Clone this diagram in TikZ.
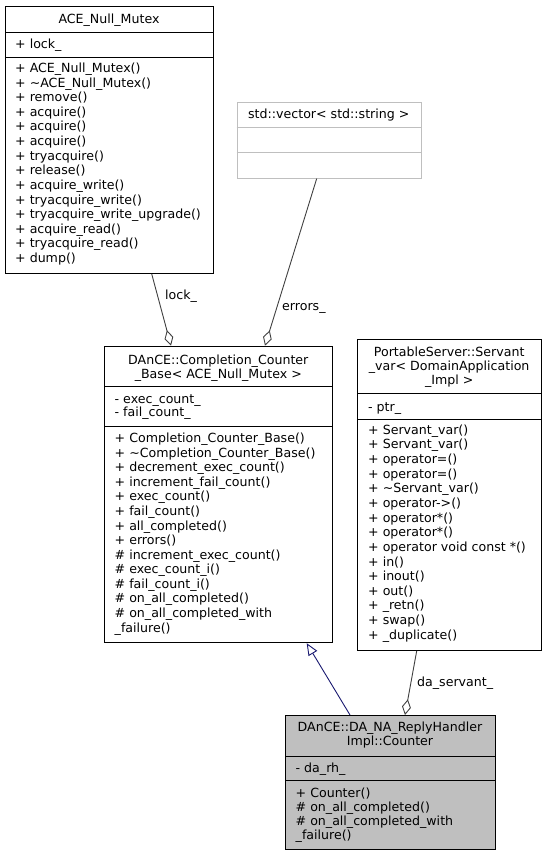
\documentclass[tikz,border=0pt]{standalone}
\usepackage{fontspec}
\setmainfont{DejaVu Sans}
\usetikzlibrary{arrows.meta,calc}

\definecolor{edgegray}{HTML}{404040}
\definecolor{boxgray}{HTML}{BFBFBF}
\definecolor{navyline}{HTML}{191970}

\tikzset{
	classbox/.style={draw=black, line width=0.9pt, fill=white, inner sep=0pt, anchor=north west},
	member/.style={anchor=base west, inner sep=0pt},
	title/.style={anchor=base, inner sep=0pt},
	sepline/.style={line width=0.9pt},
	assoc/.style={draw=edgegray, line width=0.9pt, -{Diamond[open,length=16pt,width=9pt]}},
	inherit/.style={draw=navyline, line width=0.9pt, -{Triangle[open,length=12pt,width=10pt]}}
}

\begin{document}
\begin{tikzpicture}[x=1pt,y=-1pt,font=\fontsize{12.6}{14.6}\selectfont]
	\useasboundingbox (0,0) rectangle (547,856);
	
	% ACE_Null_Mutex
	\node[classbox, minimum width=208pt, minimum height=267pt] (mutex) at (5,6) {};
	\draw[sepline] (5,32) -- (213,32);
	\draw[sepline] (5,57) -- (213,57);
	\node[title] (mutextitle) at (109,23.6) {ACE\_Null\_Mutex};
	\node[member] (mutexlock) at (15,49) {+ lock\_};
	\foreach \m [count=\i from 0] in {+ ACE\_Null\_Mutex(), + \textasciitilde{}ACE\_Null\_Mutex(), + remove(), + acquire(), + acquire(), + acquire(), + tryacquire(), + release(), + acquire\_write(), + tryacquire\_write(), + tryacquire\_write\_upgrade(), + acquire\_read(), + tryacquire\_read(), + dump()}
	{
	\node[member] at (15,72.6+14.6*\i) {\m};
	}
	
	% std::vector< std::string >
	\node[classbox, draw=boxgray, minimum width=184.3pt, minimum height=75.4pt] (vec) at (236.7,102.3) {};
	\draw[sepline, boxgray] (236.7,127.3) -- (421,127.3);
	\draw[sepline, boxgray] (236.7,152.7) -- (421,152.7);
	\node[title] (vectitle) at (328.8,118.3) {std::vector< std::string >};
	
	% DAnCE::Completion_Counter_Base
	\node[classbox, minimum width=228pt, minimum height=296.6pt] (base) at (104.3,345.7) {};
	\draw[sepline] (104.3,386.7) -- (332.3,386.7);
	\draw[sepline] (104.3,426.7) -- (332.3,426.7);
	\node[title] (basetitle1) at (218.3,364.3) {DAnCE::Completion\_Counter};
	\node[title] (basetitle2) at (218.3,378.6) {\_Base< ACE\_Null\_Mutex >};
	\node[member] (baseexec) at (114.5,403.6) {- exec\_count\_};
	\node[member] (basefail) at (114.5,416.8) {- fail\_count\_};
	\foreach \m [count=\i from 0] in {+ Completion\_Counter\_Base(), + \textasciitilde{}Completion\_Counter\_Base(), + decrement\_exec\_count(), + increment\_fail\_count(), + exec\_count(), + fail\_count(), + all\_completed(), + errors(), \# increment\_exec\_count(), \# exec\_count\_i(), \# fail\_count\_i(), \# on\_all\_completed(), \# on\_all\_completed\_with, \_failure()}
	{
	\node[member] at (114.5,442.6+14.57*\i) {\m};
	}
	
	% PortableServer::Servant_var
	\node[classbox, minimum width=183.7pt, minimum height=310.7pt] (servant) at (357.3,339.3) {};
	\draw[sepline] (357.3,393.3) -- (541,393.3);
	\draw[sepline] (357.3,419.3) -- (541,419.3);
	\node[title] (servanttitle1) at (449.2,356) {PortableServer::Servant};
	\node[title] (servanttitle2) at (449.2,370.3) {\_var< DomainApplication};
	\node[title] (servanttitle3) at (449.2,384.3) {\_Impl >};
	\node[member] (servantptr) at (368,411.5) {- ptr\_};
	\foreach \m [count=\i from 0] in {+ Servant\_var(), + Servant\_var(), + operator=(), + operator=(), + \textasciitilde{}Servant\_var(), + operator->(), + operator*(), + operator*(), + operator void const *(), + in(), + inout(), + out(), + \_retn(), + swap(), + \_duplicate()}
	{
	\node[member] at (368,434.3+14.64*\i) {\m};
	}
	
	% DAnCE::DA_NA_ReplyHandlerImpl::Counter
	\node[classbox, fill=boxgray, minimum width=210pt, minimum height=134pt] (counter) at (285,715) {};
	\draw[sepline] (285,756) -- (495,756);
	\draw[sepline] (285,780) -- (495,780);
	\node[title] (countertitle1) at (390,731.5) {DAnCE::DA\_NA\_ReplyHandler};
	\node[title] (countertitle2) at (390,745.5) {Impl::Counter};
	\node[member] (counterrh) at (295.5,772.3) {- da\_rh\_};
	\foreach \m [count=\i from 0] in {+ Counter(), \# on\_all\_completed(), \# on\_all\_completed\_with, \_failure()}
	{
	\node[member] at (295.5,797+14*\i) {\m};
	}
	
	% connectors
	\draw[assoc] ($(mutex.south west)+(146.7,0)$) -- ($(base.north west)+(66.7,0)$);
	\draw[assoc] ($(vec.south west)+(80,0)$) -- ($(base.north west)+(160.7,0)$);
	\draw[assoc] ($(servant.south west)+(59.4,0)$) -- ($(counter.north west)+(120,0)$);
	\draw[inherit] ($(counter.north west)+(65,0)$) -- ($(base.south west)+(202.4,0)$);
	
	\node[member] (locklbl) at (165,299.5) {lock\_};
	\node[member] (errorslbl) at (282,310.3) {errors\_};
	\node[member] (servantlbl) at (417,686) {da\_servant\_};
\end{tikzpicture}
\end{document}
